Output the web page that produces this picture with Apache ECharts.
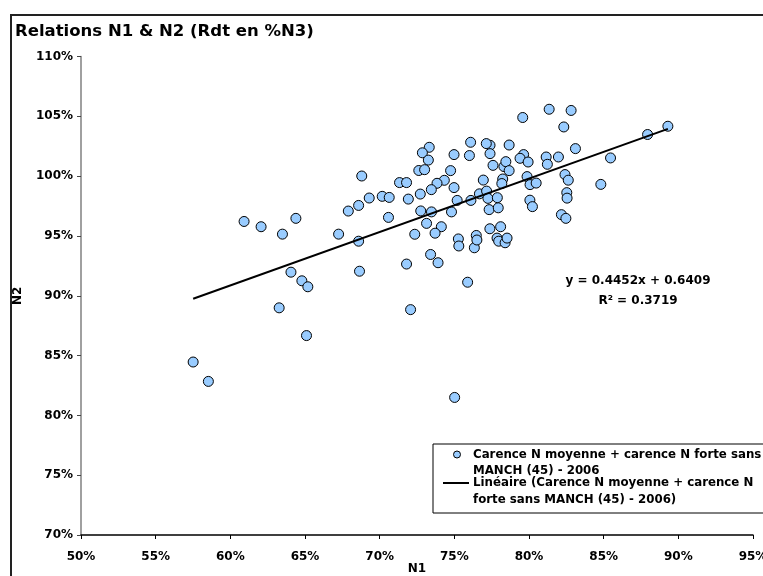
<!DOCTYPE html>
<html><head><meta charset="utf-8">
<script src="https://cdn.jsdelivr.net/npm/echarts@6/dist/echarts.min.js"></script>
<style>html,body{margin:0;padding:0;background:#fff;overflow:hidden}#c{width:763px;height:576px}</style>
</head><body><div id="c"></div>
<script>
const titleText = 'Relations N1 & N2 (Rdt en %N3)';
const seriesName = 'Carence N moyenne + carence N forte sans MANCH (45) - 2006';
const trendName = 'Linéaire (Carence N moyenne + carence N forte sans MANCH (45) - 2006)';
const equationText = 'y = 0.4452x + 0.6409';
const r2Text = 'R² = 0.3719';
const xTicks = [50, 55, 60, 65, 70, 75, 80, 85, 90, 95];
const yTicks = [70, 75, 80, 85, 90, 95, 100, 105, 110];

const n1Values = [
  79.58, 81.35, 82.82, 82.33, 89.30, 87.94, 85.46, 83.11, 81.97, 81.15,
  81.23, 79.64, 79.40, 79.94, 78.67, 77.39, 77.14, 77.39, 76.09, 76.01,
  74.98, 73.32, 72.86, 73.26, 72.62, 73.01, 74.75, 74.33, 73.84, 73.46,
  74.98, 71.33, 71.80, 70.17, 70.64, 71.92, 72.72, 72.75, 73.47, 70.59,
  75.19, 74.81, 76.11, 76.68, 77.16, 77.25, 77.88, 76.94, 77.59, 78.32,
  78.45, 78.67, 78.24, 78.18, 79.87, 80.07, 80.48, 82.41, 82.63, 84.81,
  82.53, 82.55, 80.06, 80.23, 77.33, 77.94, 82.17, 82.47, 73.14, 74.13,
  77.38, 78.10, 60.92, 62.06, 63.49, 64.39, 64.06, 64.79, 65.19, 67.25,
  68.59, 68.65, 67.90, 68.59, 69.30, 68.80, 73.71, 72.35, 75.27, 75.30,
  76.34, 76.47, 76.51, 73.41, 73.91, 71.80, 75.89, 77.86, 77.97, 78.40,
  78.53, 63.27, 72.07, 65.10, 57.51, 58.53, 75.02
];
const n2Values = [
  104.90, 105.59, 105.49, 104.11, 104.17, 103.48, 101.52, 102.30, 101.60, 101.60,
  100.99, 101.80, 101.49, 101.18, 102.60, 102.58, 102.72, 101.88, 102.83, 101.72,
  101.80, 102.41, 101.95, 101.34, 100.47, 100.54, 100.46, 99.65, 99.40, 98.87,
  99.04, 99.46, 99.46, 98.31, 98.22, 98.08, 98.50, 97.09, 97.01, 96.55,
  97.97, 97.01, 97.97, 98.52, 98.75, 98.14, 98.20, 99.67, 100.90, 100.80,
  101.21, 100.46, 99.76, 99.38, 99.96, 99.29, 99.42, 100.13, 99.66, 99.31,
  98.62, 98.16, 97.99, 97.45, 97.20, 97.35, 96.78, 96.47, 96.05, 95.77,
  95.60, 95.77, 96.21, 95.77, 95.15, 96.47, 91.97, 91.25, 90.75, 95.15,
  94.56, 92.05, 97.08, 97.55, 98.17, 100.01, 95.23, 95.14, 94.75, 94.16,
  94.01, 95.04, 94.66, 93.45, 92.76, 92.65, 91.13, 94.82, 94.56, 94.43,
  94.82, 88.99, 88.84, 86.67, 84.46, 82.84, 81.50
];
const trendN1 = [57.51, 89.30];
const trendN2 = [89.75, 103.95];

const FONT = 'DejaVu Sans';
const points = n1Values.map((v, i) => [v, n2Values[i]]);
const trend = trendN1.map((v, i) => [v, trendN2[i]]);

const chart = echarts.init(document.getElementById('c'), null, {renderer: 'canvas'});
chart.setOption({
  animation: false,
  backgroundColor: '#fff',
  title: {
    text: titleText, left: 15, top: 23, padding: 0,
    textStyle: {fontFamily: FONT, fontSize: 16.5, fontWeight: 'bold', color: '#000'}
  },
  grid: {left: 81, right: 10, top: 56.5, bottom: 41, containLabel: false, outerBoundsMode: 'none'},
  xAxis: {
    type: 'value', min: xTicks[0], max: xTicks[xTicks.length - 1], interval: 5,
    name: 'N1', nameLocation: 'middle', nameGap: 28, nameMoveOverlap: false,
    nameTextStyle: {fontFamily: FONT, fontSize: 12, fontWeight: 'bold', color: '#000'},
    axisLine: {show: true, onZero: false, lineStyle: {color: '#000', width: 1.5}},
    axisTick: {show: true, length: 4, lineStyle: {color: '#000'}},
    axisLabel: {margin: 16, fontFamily: FONT, fontSize: 12, fontWeight: 'bold', color: '#000',
      hideOverlap: false, showMaxLabel: true, formatter: v => v + '%'},
    splitLine: {show: false}
  },
  yAxis: {
    type: 'value', min: yTicks[0], max: yTicks[yTicks.length - 1], interval: 5,
    name: 'N2', nameLocation: 'middle', nameGap: 57, nameRotate: 90, nameMoveOverlap: false,
    nameTextStyle: {fontFamily: FONT, fontSize: 12, fontWeight: 'bold', color: '#000'},
    axisLine: {show: true, onZero: false, lineStyle: {color: '#808080', width: 1.5}},
    axisTick: {show: true, length: 4, lineStyle: {color: '#444'}},
    axisLabel: {margin: 8, fontFamily: FONT, fontSize: 12, fontWeight: 'bold', color: '#000',
      formatter: v => v + '%'},
    splitLine: {show: false}
  },
  series: [
    {
      name: seriesName, type: 'scatter', data: points, symbol: 'circle', symbolSize: 10, z: 2,
      itemStyle: {color: '#99CCFF', borderColor: '#000', borderWidth: 1, opacity: 1}
    },
    {
      name: trendName, type: 'line', data: trend, symbol: 'none', z: 3,
      lineStyle: {color: '#000', width: 2}
    }
  ],
  graphic: [
    {type: 'rect', shape: {x: 11, y: 15, width: 800, height: 620}, silent: true,
      style: {fill: 'none', stroke: '#222', lineWidth: 2}, z: 10},
    {type: 'text', x: 638, y: 281, z: 10, style: {text: equationText, fontFamily: FONT, fontSize: 12,
      fontWeight: 'bold', fill: '#000', textAlign: 'center', textVerticalAlign: 'middle'}},
    {type: 'text', x: 638, y: 301, z: 10, style: {text: r2Text, fontFamily: FONT, fontSize: 12,
      fontWeight: 'bold', fill: '#000', textAlign: 'center', textVerticalAlign: 'middle'}},
    {type: 'rect', shape: {x: 433, y: 444, width: 360, height: 69}, z: 10,
      style: {fill: '#fff', stroke: '#000', lineWidth: 1}},
    {type: 'circle', shape: {cx: 457, cy: 454.5, r: 3.5}, z: 11,
      style: {fill: '#99CCFF', stroke: '#000', lineWidth: 1}},
    {type: 'text', x: 473, y: 454.5, z: 11, style: {text: 'Carence N moyenne + carence N forte sans',
      fontFamily: FONT, fontSize: 11.8, fontWeight: 'bold', fill: '#000', textVerticalAlign: 'middle'}},
    {type: 'text', x: 473, y: 471, z: 11, style: {text: 'MANCH (45) - 2006',
      fontFamily: FONT, fontSize: 11.8, fontWeight: 'bold', fill: '#000', textVerticalAlign: 'middle'}},
    {type: 'line', shape: {x1: 443, y1: 483, x2: 469, y2: 483}, z: 11,
      style: {stroke: '#000', lineWidth: 2}},
    {type: 'text', x: 473, y: 483, z: 11, style: {text: 'Linéaire (Carence N moyenne + carence N',
      fontFamily: FONT, fontSize: 11.8, fontWeight: 'bold', fill: '#000', textVerticalAlign: 'middle'}},
    {type: 'text', x: 473, y: 500, z: 11, style: {text: 'forte sans MANCH (45) - 2006)',
      fontFamily: FONT, fontSize: 11.8, fontWeight: 'bold', fill: '#000', textVerticalAlign: 'middle'}}
  ]
});
</script>
</body></html>
